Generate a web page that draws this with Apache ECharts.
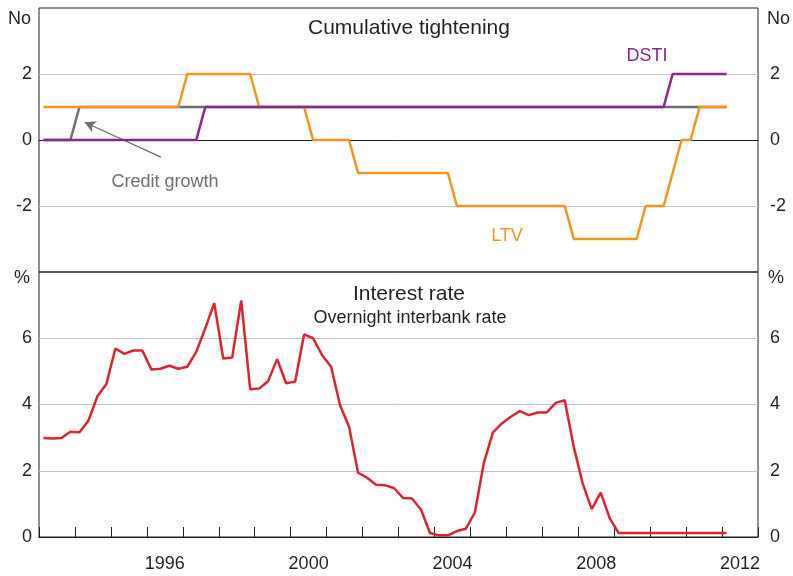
<!DOCTYPE html>
<html><head><meta charset="utf-8">
<script src="https://cdn.jsdelivr.net/npm/echarts@6/dist/echarts.min.js"></script>
<style>html,body{margin:0;padding:0;background:#fff}#c{width:793px;height:576px}</style>
</head><body><div id="c"></div>
<script>
// Quarterly observations, first point = 1993 Q1, last = 2012 Q1
const startYear = 1993;
const yearTickLabels = ['1996', '2000', '2004', '2008', '2012'];
const tighteningTickLabels = [-2, 0, 2];
const rateTickLabels = [0, 2, 4, 6];

const ltv = [
  1, 1, 1, 1,   1, 1, 1, 1,   1, 1, 1, 1,   1, 1, 1, 1,
  2, 2, 2, 2,   2, 2, 2, 2,
  1, 1, 1, 1,   1, 1, 0, 0,
  0, 0, 0, -1,  -1, -1, -1, -1,  -1, -1, -1, -1,
  -1, -1, -2, -2,  -2, -2, -2, -2,  -2, -2, -2, -2,
  -2, -2, -2, -3,  -3, -3, -3, -3,  -3, -3, -3, -2,
  -2, -2, -1, 0,  0, 1, 1, 1,
  1
];
const dsti = [
  0, 0, 0, 0,  0, 0, 0, 0,  0, 0, 0, 0,  0, 0, 0, 0,
  0, 0, 1, 1,
  1, 1, 1, 1,  1, 1, 1, 1,  1, 1, 1, 1,  1, 1, 1, 1,
  1, 1, 1, 1,  1, 1, 1, 1,  1, 1, 1, 1,  1, 1, 1, 1,
  1, 1, 1, 1,  1, 1, 1, 1,  1, 1, 1, 1,  1, 1, 1, 1,
  1, 1, 2, 2,  2, 2, 2, 2,
  2
];
const creditGrowth = [
  0, 0, 0, 0,
  1, 1, 1, 1,  1, 1, 1, 1,  1, 1, 1, 1,  1, 1, 1, 1,
  1, 1, 1, 1,  1, 1, 1, 1,  1, 1, 1, 1,  1, 1, 1, 1,
  1, 1, 1, 1,  1, 1, 1, 1,  1, 1, 1, 1,  1, 1, 1, 1,
  1, 1, 1, 1,  1, 1, 1, 1,  1, 1, 1, 1,  1, 1, 1, 1,
  1, 1, 1, 1,  1, 1, 1, 1,
  1
];
const overnightRate = [
  2.99, 2.97, 2.99, 3.18,
  3.16, 3.51, 4.25, 4.62,
  5.69, 5.53, 5.63, 5.63,
  5.06, 5.08, 5.17, 5.08,
  5.14, 5.59, 6.30, 7.06,
  5.39, 5.42, 7.14, 4.46,
  4.48, 4.71, 5.37, 4.64,
  4.69, 6.12, 6.00, 5.49,
  5.14, 3.98, 3.33, 1.94,
  1.79, 1.58, 1.56, 1.48,
  1.18, 1.16, 0.83, 0.12,
  0.05, 0.05, 0.18, 0.25,
  0.74, 2.24, 3.15, 3.43,
  3.63, 3.80, 3.68, 3.76,
  3.76, 4.05, 4.13, 2.72,
  1.61, 0.84, 1.34, 0.57,
  0.12, 0.12, 0.12, 0.12,
  0.12, 0.12, 0.12, 0.12,
  0.12, 0.12, 0.12, 0.12,
  0.12
];

function toPairs(arr) { return arr.map((v, i) => [startYear + 0.125 + 0.25 * i, v]); }

const FONT = '"Liberation Sans", Arial, Helvetica, sans-serif';
const DARK = '#231F20';
const GRIDC = '#C3C3C3';
const ORANGE = '#F7941D';
const PURPLE = '#87288A';
const GREY = '#6D6E71';
const RED = '#D7262F';

const chart = echarts.init(document.getElementById('c'), null, {renderer: 'canvas'});

const labelStyle = {color: DARK, fontFamily: FONT, fontSize: 18};

function yAx(gridIndex, pos, min, max, shown, split) {
  return {
    type: 'value', gridIndex: gridIndex, position: pos, min: min, max: max, interval: 2,
    axisLine: {show: false}, axisTick: {show: false},
    axisLabel: Object.assign({}, labelStyle, {
      margin: pos === 'left' ? 7 : 12,
      formatter: v => shown.indexOf(v) >= 0 ? String(v) : ''
    }),
    splitLine: {show: split, showMinLine: false, showMaxLine: false, lineStyle: {color: GRIDC, width: 1}}
  };
}

const option = {
  animation: false,
  backgroundColor: '#fff',
  grid: [
    {left: 39, right: 35, top: 8, height: 264, show: true, borderColor: DARK, borderWidth: 1, backgroundColor: 'transparent'},
    {left: 39, right: 35, top: 272, height: 265, show: true, borderColor: DARK, borderWidth: 1, backgroundColor: 'transparent'}
  ],
  xAxis: [
    {type: 'value', gridIndex: 0, min: 1993, max: 2013, interval: 1,
     axisLine: {show: true, onZero: true, lineStyle: {color: DARK, width: 1}},
     axisTick: {show: false}, axisLabel: {show: false}, splitLine: {show: false}},
    {type: 'value', gridIndex: 1, position: 'bottom', min: 1993, max: 2013, interval: 1,
     axisLine: {show: true, onZero: false, lineStyle: {color: DARK, width: 1}},
     axisTick: {show: true, inside: true, length: 10, lineStyle: {color: DARK, width: 1}},
     axisLabel: {show: false}, splitLine: {show: false}},
    {type: 'value', gridIndex: 1, position: 'bottom', min: 1993, max: 2013, interval: 0.5,
     axisLine: {show: false, onZero: false}, axisTick: {show: false}, splitLine: {show: false},
     axisLabel: Object.assign({}, labelStyle, {
       margin: 18, showMinLabel: true, showMaxLabel: true,
       formatter: function (v) {
         const y = v - 0.5;
         if (Math.abs(y - Math.round(y)) < 1e-6) {
           const s = String(Math.round(y));
           if (yearTickLabels.indexOf(s) >= 0) return s;
         }
         return '';
       }
     })}
  ],
  yAxis: [
    yAx(0, 'left', -4, 4, tighteningTickLabels, true),
    yAx(0, 'right', -4, 4, tighteningTickLabels, false),
    yAx(1, 'left', 0, 8, rateTickLabels, true),
    yAx(1, 'right', 0, 8, rateTickLabels, false)
  ],
  series: [
    {name: 'Credit growth', type: 'line', xAxisIndex: 0, yAxisIndex: 0, data: toPairs(creditGrowth),
     showSymbol: false, z: 3, lineStyle: {color: GREY, width: 2.5}, itemStyle: {color: GREY},
     markLine: {silent: true, symbol: ['none', 'arrow'], symbolSize: [9, 11], label: {show: false},
       lineStyle: {color: GREY, width: 1.2, type: 'solid'},
       data: [[{coord: [1996.39, -0.52]}, {coord: [1994.27, 0.54]}]]}},
    {name: 'LTV', type: 'line', xAxisIndex: 0, yAxisIndex: 0, data: toPairs(ltv),
     showSymbol: false, z: 4, lineStyle: {color: ORANGE, width: 2.5}, itemStyle: {color: ORANGE}},
    {name: 'DSTI', type: 'line', xAxisIndex: 0, yAxisIndex: 0, data: toPairs(dsti),
     showSymbol: false, z: 5, lineStyle: {color: PURPLE, width: 2.5}, itemStyle: {color: PURPLE}},
    {name: 'Overnight interbank rate', type: 'line', xAxisIndex: 1, yAxisIndex: 2, data: toPairs(overnightRate),
     showSymbol: false, z: 4, lineStyle: {color: RED, width: 2.5}, itemStyle: {color: RED}}
  ],
  graphic: [
    {type: 'text', left: 0, top: 0, style: {text: ''}},
    {type: 'text', x: 409, y: 28, style: {text: 'Cumulative tightening', fill: DARK, font: '21px ' + FONT, textAlign: 'center', textVerticalAlign: 'middle'}},
    {type: 'text', x: 409, y: 294, style: {text: 'Interest rate', fill: DARK, font: '21px ' + FONT, textAlign: 'center', textVerticalAlign: 'middle'}},
    {type: 'text', x: 410, y: 318, style: {text: 'Overnight interbank rate', fill: DARK, font: '18px ' + FONT, textAlign: 'center', textVerticalAlign: 'middle'}},
    {type: 'text', x: 647, y: 56, style: {text: 'DSTI', fill: PURPLE, font: '18px ' + FONT, textAlign: 'center', textVerticalAlign: 'middle'}},
    {type: 'text', x: 507, y: 236, style: {text: 'LTV', fill: ORANGE, font: '18px ' + FONT, textAlign: 'center', textVerticalAlign: 'middle'}},
    {type: 'text', x: 165, y: 182, style: {text: 'Credit growth', fill: GREY, font: '18px ' + FONT, textAlign: 'center', textVerticalAlign: 'middle'}},
    {type: 'text', x: 31, y: 19, style: {text: 'No', fill: DARK, font: '18px ' + FONT, textAlign: 'right', textVerticalAlign: 'middle'}},
    {type: 'text', x: 767, y: 19, style: {text: 'No', fill: DARK, font: '18px ' + FONT, textAlign: 'left', textVerticalAlign: 'middle'}},
    {type: 'text', x: 30, y: 278, style: {text: '%', fill: DARK, font: '18px ' + FONT, textAlign: 'right', textVerticalAlign: 'middle'}},
    {type: 'text', x: 768, y: 278, style: {text: '%', fill: DARK, font: '18px ' + FONT, textAlign: 'left', textVerticalAlign: 'middle'}}
  ]
};
chart.setOption(option);
</script>
</body></html>
